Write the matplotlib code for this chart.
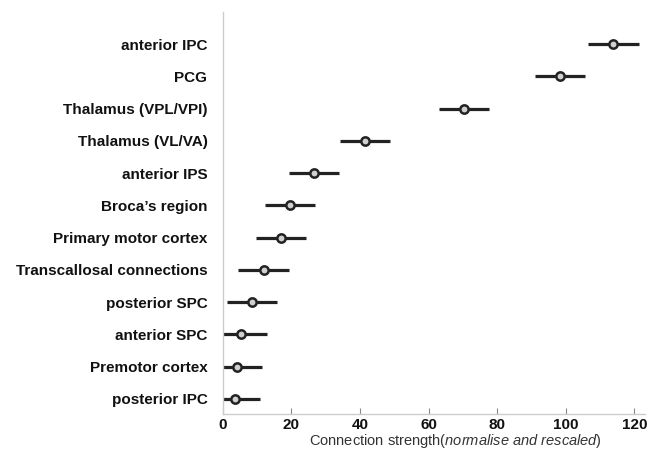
import matplotlib
matplotlib.use("Agg")
import matplotlib.pyplot as plt
import numpy as np

plt.rcParams['font.family'] = ['Liberation Sans', 'DejaVu Sans']
plt.rcParams['mathtext.fontset'] = 'custom'
plt.rcParams['mathtext.rm'] = 'Liberation Sans'
plt.rcParams['mathtext.it'] = 'Liberation Sans:italic'

regions = ["anterior IPC", "PCG", "Thalamus (VPL/VPI)", "Thalamus (VL/VA)",
           "anterior IPS", "Broca\u2019s region", "Primary motor cortex",
           "Transcallosal connections", "posterior SPC", "anterior SPC",
           "Premotor cortex", "posterior IPC"]
strength = [113.9, 98.3, 70.3, 41.4, 26.7, 19.7, 16.9, 11.9, 8.5, 5.4, 4.2, 3.7]
error = [7.3, 7.4, 7.3, 7.3, 7.3, 7.3, 7.3, 7.3, 7.3, 7.4, 7.2, 7.3]
xticks = [0, 20, 40, 60, 80, 100, 120]

fig = plt.figure(figsize=(6.48, 4.5), dpi=100)
ax = fig.add_axes([0.3437, 0.08, 0.6517, 0.8933])

n = len(regions)
ypos = np.arange(n)[::-1]
ax.errorbar(strength, ypos, xerr=error, fmt='o', color='#222222', ecolor='#222222',
            elinewidth=2.3, capsize=0, markersize=6, markerfacecolor='#d0d0d0',
            markeredgecolor='#222222', markeredgewidth=1.8, clip_on=True)

ax.set_xlim(0, 123.1)
ax.set_ylim(-0.47, 12.0)
ax.set_yticks(ypos)
ax.set_yticklabels(regions, fontsize=11, fontweight='bold', color='#111111')
ax.set_xticks(xticks)
ax.set_xticklabels([str(t) for t in xticks], fontsize=11, fontweight='bold', color='#111111')
ax.tick_params(axis='y', length=0, pad=11)
ax.tick_params(axis='x', direction='in', length=4, color='#888888', pad=3)
for s in ['top', 'right']:
    ax.spines[s].set_visible(False)
for s in ['left', 'bottom']:
    ax.spines[s].set_color('#cccccc')
    ax.spines[s].set_linewidth(1)

ax.text(455 / 648, 9 / 450,
        'Connection strength$\\it{(normalise\\ and\\ rescaled)}$',
        transform=fig.transFigure, ha='center', va='center',
        fontsize=10.5, color='#333333')

fig.savefig('out.png', dpi=100)
